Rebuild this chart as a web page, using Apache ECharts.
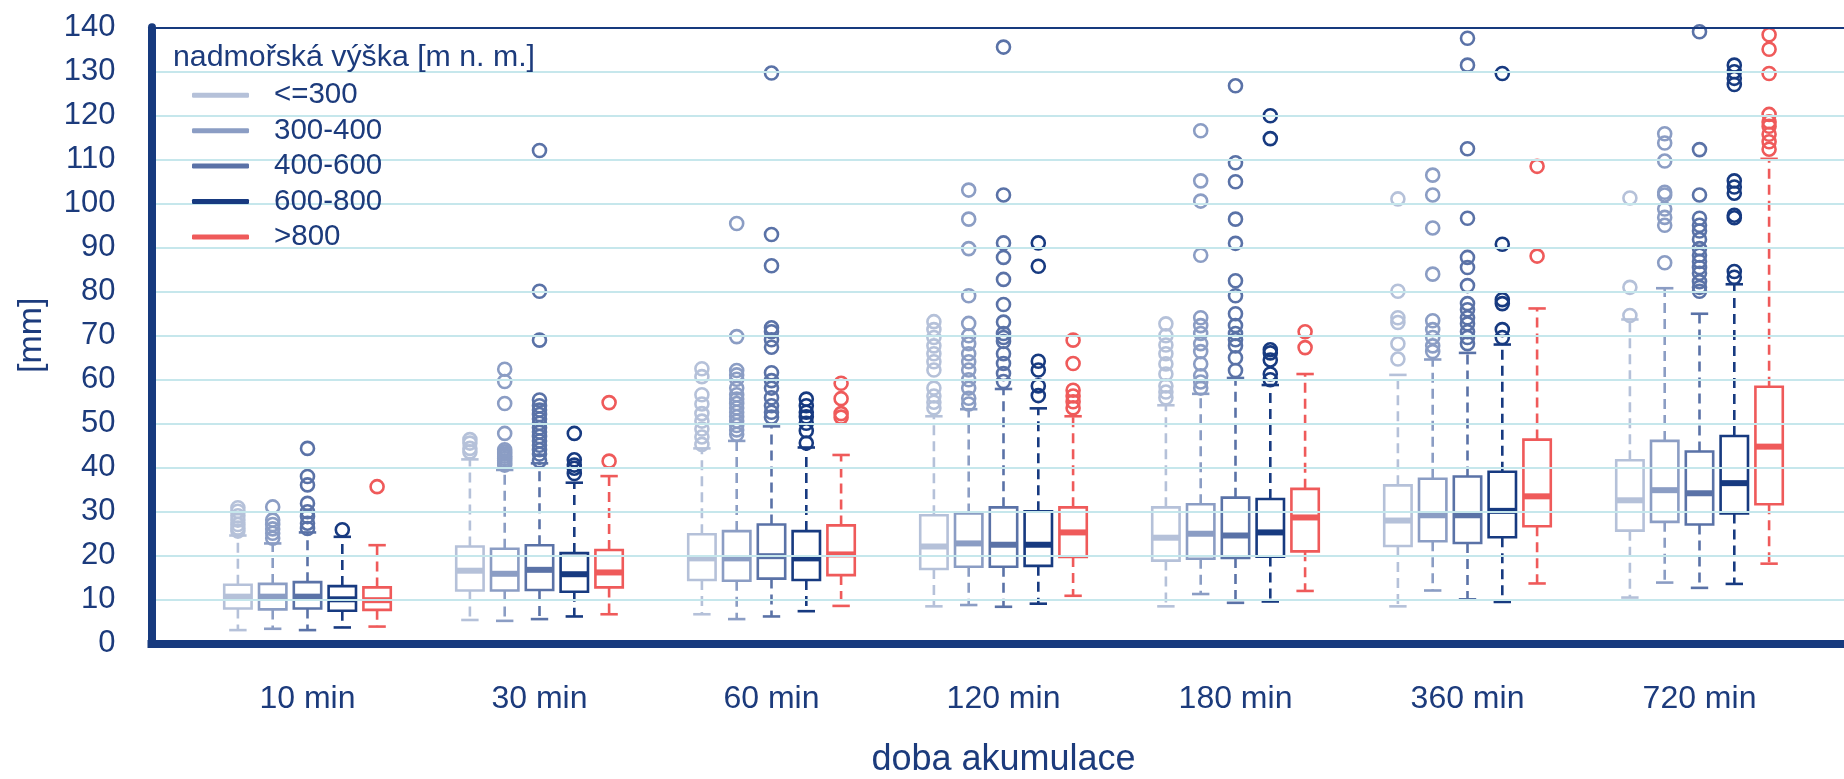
<!DOCTYPE html>
<html>
<head>
<meta charset="utf-8">
<script src="https://cdn.jsdelivr.net/npm/echarts@6/dist/echarts.min.js"></script>
<style>
html,body{margin:0;padding:0;background:#fff;}
#chart{width:1844px;height:779px;}
</style>
</head>
<body>
<div id="chart"></div>
<script>
// ---------------- DATA ----------------
const categories = ['10 min', '30 min', '60 min', '120 min', '180 min', '360 min', '720 min'];
const seriesNames = ['<=300', '300-400', '400-600', '600-800', '>800'];
const yMin = 0, yMax = 140, yStep = 10;

// box statistics per category: [lower whisker, Q1, median, Q3, upper whisker]
const box_le300 = [
  [3.0, 7.9, 10.6, 13.3, 24.5], [5.3, 12.0, 16.5, 22.0, 41.8], [6.6, 14.4, 19.3, 24.8, 44.3],
  [8.4, 16.9, 22.0, 29.1, 51.6], [8.4, 18.8, 24.0, 30.9, 54.1], [8.4, 22.1, 27.9, 35.9, 61.0],
  [10.4, 25.6, 32.5, 41.6, 73.6]
];
const box_300_400 = [
  [3.3, 7.7, 10.6, 13.5, 22.7], [5.1, 12.0, 15.8, 21.5, 39.4], [5.5, 14.2, 19.3, 25.5, 46.0],
  [8.7, 17.4, 22.7, 29.5, 53.2], [11.2, 19.2, 24.9, 31.6, 56.7], [12.0, 23.2, 29.1, 37.4, 64.5],
  [13.8, 27.6, 34.8, 46.0, 80.7]
];
const box_400_600 = [
  [3.0, 7.9, 10.6, 13.9, 25.2], [5.5, 12.1, 16.7, 22.3, 40.9], [6.1, 14.7, 19.8, 27.0, 49.3],
  [8.3, 17.4, 22.4, 30.9, 57.8], [9.2, 19.4, 24.5, 33.1, 60.3], [10.0, 22.8, 29.1, 37.9, 66.0],
  [12.6, 27.0, 34.1, 43.6, 74.9]
];
const box_600_800 = [
  [3.6, 7.4, 10.0, 13.0, 24.2], [6.1, 11.7, 15.7, 20.5, 36.5], [7.3, 14.4, 19.3, 25.5, 44.5],
  [9.0, 17.6, 22.4, 30.0, 53.4], [9.5, 19.7, 25.2, 32.8, 58.7], [9.4, 24.1, 30.1, 39.0, 67.9],
  [13.5, 29.5, 36.4, 47.1, 81.6]
];
const box_gt800 = [
  [3.8, 7.6, 9.8, 12.7, 22.3], [6.6, 12.7, 16.1, 21.2, 38.0], [8.5, 15.5, 20.2, 26.8, 42.8],
  [10.8, 19.6, 25.2, 30.9, 51.6], [11.9, 20.9, 28.6, 35.1, 61.2], [13.6, 26.6, 33.4, 46.3, 76.1],
  [18.1, 31.6, 44.7, 58.3, 110.1]
];

// outliers per category
const out_le300 = [
  [25.5, 26.2, 27.0, 28.0, 29.0, 30.0, 30.8],
  [43.5, 44.3, 45.5, 46.3],
  [45.2, 46.9, 48.7, 50.5, 52.2, 54.4, 56.5, 60.6, 62.4],
  [53.5, 54.8, 56.2, 58.0, 62.1, 64.0, 65.8, 67.6, 69.5, 71.3, 73.1],
  [55.8, 57.1, 58.5, 61.2, 63.5, 65.8, 67.8, 69.9, 72.6],
  [64.6, 68.1, 72.9, 74.0, 80.0, 101.0],
  [74.5, 80.9, 101.2]
];
const out_300_400 = [
  [23.9, 25.0, 26.0, 27.0, 28.0, 31.0],
  [40.5, 41.0, 41.5, 42.0, 42.5, 43.0, 43.5, 44.0, 47.7, 54.5, 59.5, 62.3],
  [47.5, 48.5, 49.5, 50.5, 51.5, 52.5, 53.5, 54.5, 55.5, 56.5, 58.0, 60.0, 61.0, 62.0, 69.7, 95.4],
  [54.4, 55.7, 58.0, 59.9, 62.1, 64.0, 65.8, 68.1, 69.9, 72.7, 79.0, 89.7, 96.4, 103.0],
  [58.0, 59.4, 60.8, 63.5, 66.3, 68.1, 70.4, 72.2, 74.0, 88.2, 100.5, 105.1, 116.5],
  [66.3, 67.6, 69.5, 71.3, 73.3, 83.9, 94.4, 101.9, 106.4],
  [86.5, 95.0, 96.8, 98.7, 101.9, 102.5, 109.6, 113.7, 115.8]
];
const out_400_600 = [
  [26.1, 27.3, 28.8, 29.9, 31.8, 36.0, 37.9, 44.3],
  [41.5, 43.0, 44.0, 45.0, 46.0, 47.0, 48.0, 49.0, 50.0, 51.0, 52.0, 53.0, 54.0, 55.3, 68.9, 80.0, 112.0],
  [51.4, 52.5, 54.0, 55.8, 58.0, 59.7, 61.5, 67.3, 69.0, 70.8, 71.7, 85.8, 92.9, 129.6],
  [59.5, 61.3, 63.6, 65.8, 68.6, 69.5, 70.4, 73.0, 77.0, 82.7, 87.7, 91.0, 101.9, 135.5],
  [62.0, 64.9, 67.6, 69.0, 70.4, 72.2, 74.9, 79.0, 82.4, 90.9, 96.4, 104.9, 109.2, 126.7],
  [68.1, 69.5, 70.8, 72.6, 74.0, 75.8, 77.2, 81.3, 85.4, 87.7, 96.6, 112.4, 131.4, 137.5],
  [80.0, 80.9, 82.2, 84.1, 85.4, 86.8, 88.2, 89.7, 91.8, 93.7, 95.0, 96.6, 101.9, 112.2, 139.0]
];
const out_600_800 = [
  [25.8],
  [38.6, 39.8, 40.5, 41.7, 47.7],
  [45.5, 48.3, 50.0, 51.5, 52.5, 54.0, 55.5],
  [56.3, 58.5, 62.1, 64.1, 85.7, 91.0],
  [59.9, 61.2, 64.4, 66.0, 66.7, 114.7, 119.9],
  [69.5, 71.3, 77.2, 78.1, 90.7, 129.5],
  [83.2, 84.5, 96.7, 97.3, 102.3, 103.7, 105.1, 127.0, 128.4, 129.9, 131.4]
];
const out_gt800 = [
  [35.6],
  [41.4, 54.7],
  [51.4, 52.2, 55.6, 59.1],
  [53.5, 54.9, 56.2, 57.5, 63.6, 68.9],
  [67.2, 70.8],
  [88.0, 108.4],
  [112.3, 114.0, 115.7, 117.5, 118.5, 120.2, 129.5, 135.0, 138.3]
];

// ---------------- STYLE ----------------
const colors = ['#b5c1d9', '#8b9dc4', '#5a72a7', '#173a80', '#ef5a5a'];
const NAVY = '#173a7e';
const TEXT = '#1c3b7c';
const GRIDC = '#c6e7ec';
const FONT = 'Liberation Sans, Arial, sans-serif';

const boxes = [box_le300, box_300_400, box_400_600, box_600_800, box_gt800];
const outs = [out_le300, out_300_400, out_400_600, out_600_800, out_gt800];

const W = 1844, H = 779;
const dataLeft = 191.5, dataRight = 28.5, gTop = 27.3, gBottom = 135.7;
const band = (W - dataLeft - dataRight) / categories.length;
const OFF = 0.15, BOXW = 0.118, CAPW = 0.075;

function makeRender(k, color) {
  return function (params, api) {
    const ci = api.value(0);
    const bw = api.size([1, 0])[0];
    const x = api.coord([ci, 0])[0] + (k - 2) * bw * OFF;
    const w = bw * BOXW, cw = bw * CAPW;
    const yLo = api.coord([ci, api.value(1)])[1];
    const yQ1 = api.coord([ci, api.value(2)])[1];
    const yMed = api.coord([ci, api.value(3)])[1];
    const yQ3 = api.coord([ci, api.value(4)])[1];
    const yHi = api.coord([ci, api.value(5)])[1];
    const dash = { stroke: color, lineWidth: 2.6, lineDash: [10, 6] };
    const solid = { stroke: color, lineWidth: 2.6 };
    return {
      type: 'group',
      children: [
        { type: 'line', shape: { x1: x, y1: yQ1, x2: x, y2: yLo }, style: dash },
        { type: 'line', shape: { x1: x, y1: yQ3, x2: x, y2: yHi }, style: dash },
        { type: 'line', shape: { x1: x - cw / 2, y1: yLo, x2: x + cw / 2, y2: yLo }, style: solid },
        { type: 'line', shape: { x1: x - cw / 2, y1: yHi, x2: x + cw / 2, y2: yHi }, style: solid },
        { type: 'rect', shape: { x: x - w / 2, y: yQ3, width: w, height: yQ1 - yQ3 },
          style: { fill: '#ffffff', stroke: color, lineWidth: 2.6 } },
        { type: 'line', shape: { x1: x - w / 2, y1: yMed, x2: x + w / 2, y2: yMed },
          style: { stroke: color, lineWidth: 6 } }
      ]
    };
  };
}

const series = [];
seriesNames.forEach(function (name, k) {
  series.push({
    type: 'custom',
    name: name,
    xAxisIndex: 2,
    yAxisIndex: 1,
    data: boxes[k].map(function (b, i) { return [i].concat(b); }),
    encode: { x: 0, y: [1, 2, 3, 4, 5] },
    renderItem: makeRender(k, colors[k]),
    itemStyle: { color: colors[k] },
    clip: false,
    z: 2
  });
});
seriesNames.forEach(function (name, k) {
  const pts = [];
  outs[k].forEach(function (arr, ci) { arr.forEach(function (v) { pts.push([ci, v]); }); });
  series.push({
    type: 'scatter',
    name: name,
    xAxisIndex: 2,
    yAxisIndex: 1,
    data: pts,
    symbol: 'circle',
    symbolSize: 13,
    symbolOffset: [(k - 2) * band * OFF, 0],
    itemStyle: { color: 'rgba(255,255,255,0)', borderColor: colors[k], borderWidth: 2.6, opacity: 1 },
    clip: false,
    z: 3
  });
});

const chart = echarts.init(document.getElementById('chart'), null, { renderer: 'canvas' });
chart.setOption({
  animation: false,
  backgroundColor: '#ffffff',
  textStyle: { fontFamily: FONT },
  title: {
    text: 'nadmořská výška [m n. m.]',
    left: 173, top: 42.5, padding: 0,
    textStyle: { fontFamily: FONT, fontSize: 30.3, fontWeight: 'normal', color: TEXT }
  },
  legend: {
    orient: 'vertical',
    left: 192, top: 80.3, padding: 0,
    itemWidth: 57, itemHeight: 5, itemGap: 5.4,
    icon: 'roundRect',
    data: seriesNames.map(function (n, k) { return { name: n, itemStyle: { color: colors[k] } }; }),
    textStyle: { fontFamily: FONT, fontSize: 29.5, color: TEXT, lineHeight: 30, padding: [0, 0, 0, 20] }
  },
  grid: [
    { left: 151.5, right: 0, top: gTop, bottom: gBottom, outerBoundsMode: 'none', containLabel: false },
    { left: dataLeft, right: dataRight, top: gTop, bottom: gBottom, outerBoundsMode: 'none', containLabel: false }
  ],
  xAxis: [
    { gridIndex: 0, type: 'value', min: 0, max: 1, position: 'bottom',
      axisLine: { show: true, onZero: false, lineStyle: { color: NAVY, width: 8, cap: 'square' } },
      axisTick: { show: false }, axisLabel: { show: false }, splitLine: { show: false }, z: 5 },
    { gridIndex: 0, type: 'value', min: 0, max: 1, position: 'top',
      axisLine: { show: true, onZero: false, lineStyle: { color: NAVY, width: 2 } },
      axisTick: { show: false }, axisLabel: { show: false }, splitLine: { show: false }, z: 5 },
    { gridIndex: 1, type: 'category', data: categories, position: 'bottom',
      axisLine: { show: false, onZero: false }, axisTick: { show: false }, splitLine: { show: false },
      axisLabel: { fontFamily: FONT, fontSize: 32, color: TEXT, margin: 40, interval: 0 },
      name: 'doba akumulace', nameLocation: 'middle', nameGap: 99, nameMoveOverlap: false,
      nameTextStyle: { fontFamily: FONT, fontSize: 36, color: TEXT } }
  ],
  yAxis: [
    { gridIndex: 0, type: 'value', min: yMin, max: yMax, interval: yStep,
      axisLine: { show: true, onZero: false, lineStyle: { color: NAVY, width: 8, cap: 'round' } },
      axisTick: { show: false },
      axisLabel: { fontFamily: FONT, fontSize: 31, color: TEXT, margin: 36 },
      splitLine: { show: true, lineStyle: { color: GRIDC, width: 2 } },
      name: '[mm]', nameLocation: 'middle', nameGap: 103, nameMoveOverlap: false,
      nameTextStyle: { fontFamily: FONT, fontSize: 34, color: TEXT }, z: 4 },
    { gridIndex: 1, type: 'value', min: yMin, max: yMax, show: false,
      splitLine: { show: false } }
  ],
  series: series
});
</script>
</body>
</html>
